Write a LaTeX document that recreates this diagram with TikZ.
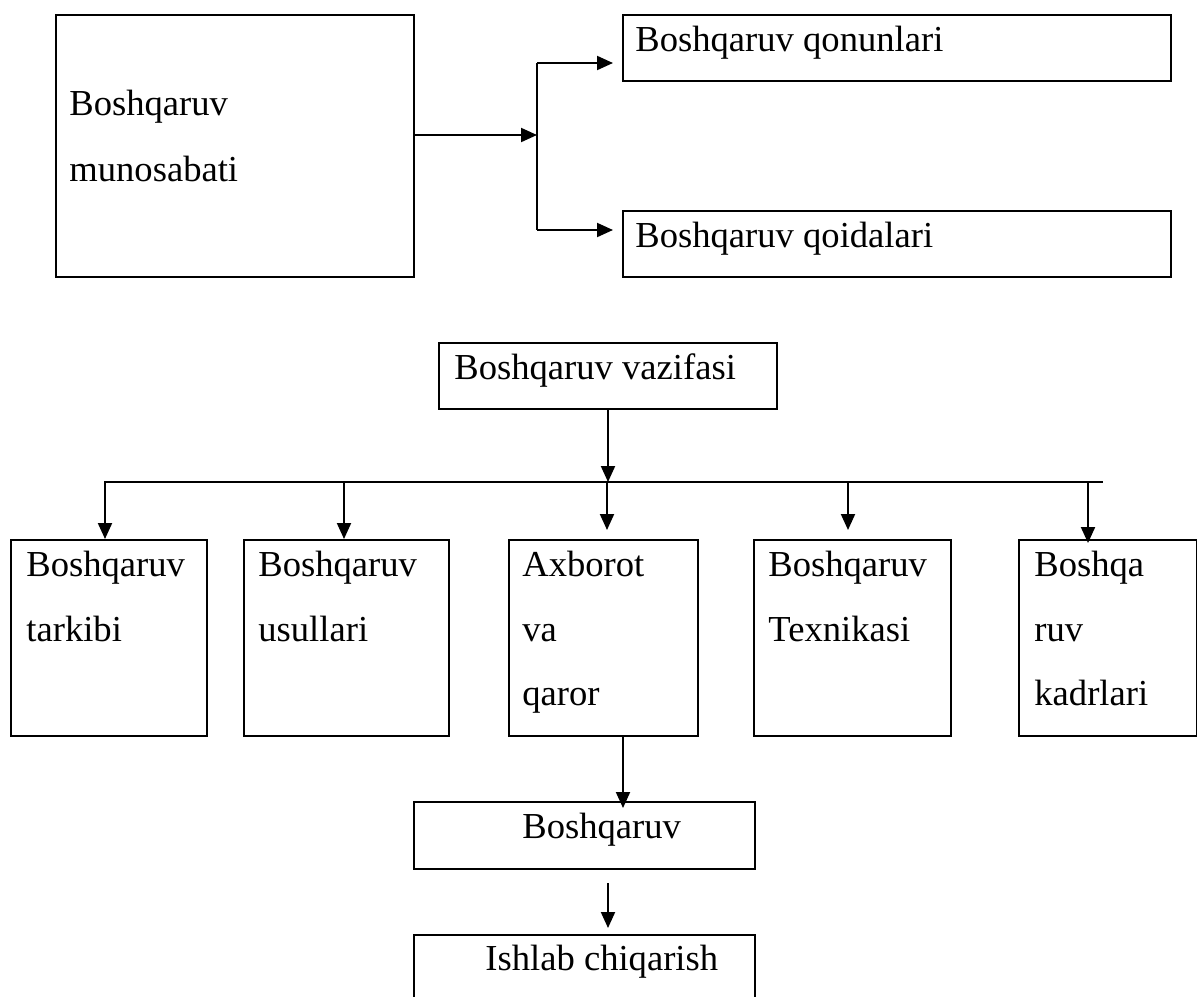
\documentclass[tikz,border=0pt]{standalone}
\usepackage{fontspec}
\setmainfont{Liberation Serif}
\usetikzlibrary{arrows.meta}
\begin{document}
\begin{tikzpicture}[x=0.5pt,y=-0.5pt,
  box/.style={draw, line width=1pt, rectangle, inner sep=0pt, anchor=north west},
  txt/.style={inner sep=0pt, anchor=base west, font=\fontsize{18.3}{22}\selectfont},
  arr/.style={line width=1pt, -{Triangle[length=8pt,width=7pt]}},
  ln/.style={line width=1pt}]
\useasboundingbox (0,0) rectangle (1197,996);
% top part
\node[box, minimum width=179pt, minimum height=131pt] (A) at (55,14) {};
\node[txt] (tA1) at (69,115) {Boshqaruv};
\node[txt] (tA2) at (69,181) {munosabati};
\node[box, minimum width=274pt, minimum height=33pt] (B) at (622,14) {};
\node[txt] (tB) at (635,51) {Boshqaruv qonunlari};
\node[box, minimum width=274pt, minimum height=33pt] (C) at (622,210) {};
\node[txt] (tC) at (635,247) {Boshqaruv qoidalari};
\coordinate (j) at (537,135);
\coordinate (jt) at (537,63);
\coordinate (jb) at (537,230);
\draw[arr] (A.east |- j) -- (j);
\draw[ln] (jt) -- (jb);
\draw[arr, shorten >=4.5pt] (jt) -- (B.west |- jt);
\draw[arr, shorten >=4.5pt] (jb) -- (C.west |- jb);
% middle part
\node[box, minimum width=169pt, minimum height=33pt] (V) at (438,342) {};
\node[txt] (tV) at (454,379) {Boshqaruv vazifasi};
\coordinate (busL) at (104,482);
\coordinate (busR) at (1103,482);
\draw[ln] (busL) -- (busR);
\draw[arr] (V.south) -- (V.south |- busL);
\node[box, minimum width=98pt, minimum height=98pt] (B1) at (10,539) {};
\node[box, minimum width=102.5pt, minimum height=98pt] (B2) at (243,539) {};
\node[box, minimum width=94.5pt, minimum height=98pt] (B3) at (508,539) {};
\node[box, minimum width=98.5pt, minimum height=98pt] (B4) at (753,539) {};
\node[box, minimum width=89pt, minimum height=98pt] (B5) at (1018,539) {};
\coordinate (k1) at (105,482);
\coordinate (k2) at (344,482);
\coordinate (k3) at (607,482);
\coordinate (k4) at (848,482);
\coordinate (k5) at (1088,482);
\draw[arr] (k1) -- (k1 |- B1.north);
\draw[arr] (k2) -- (k2 |- B2.north);
\draw[arr, shorten >=4.5pt] (k3) -- (k3 |- B3.north);
\draw[arr, shorten >=4.5pt] (k4) -- (k4 |- B4.north);
\draw[arr, shorten >=-2pt] (k5) -- (k5 |- B5.north);
\node[txt] (t11) at (26,576) {Boshqaruv};
\node[txt] (t12) at (26,641) {tarkibi};
\node[txt] (t21) at (258,576) {Boshqaruv};
\node[txt] (t22) at (258,641) {usullari};
\node[txt] (t31) at (522,576) {Axborot};
\node[txt] (t32) at (522,641) {va};
\node[txt] (t33) at (522,705) {qaror};
\node[txt] (t41) at (768,576) {Boshqaruv};
\node[txt] (t42) at (768,641) {Texnikasi};
\node[txt] (t51) at (1034,576) {Boshqa};
\node[txt] (t52) at (1034,641) {ruv};
\node[txt] (t53) at (1034,705) {kadrlari};
% bottom part
\node[box, minimum width=170.5pt, minimum height=33.5pt] (D) at (413,801) {};
\node[txt] (tD) at (522,838) {Boshqaruv};
\node[box, minimum width=170.5pt, minimum height=50pt] (E) at (413,934) {};
\node[txt] (tE) at (485,970) {Ishlab chiqarish};
\coordinate (d1) at (623,770);
\draw[arr, shorten >=-3.5pt] (d1 |- B3.south) -- (d1 |- D.north);
\coordinate (d2) at (608,900);
\draw[arr, shorten <=6.5pt, shorten >=3pt] (d2 |- D.south) -- (d2 |- E.north);
\end{tikzpicture}
\end{document}
